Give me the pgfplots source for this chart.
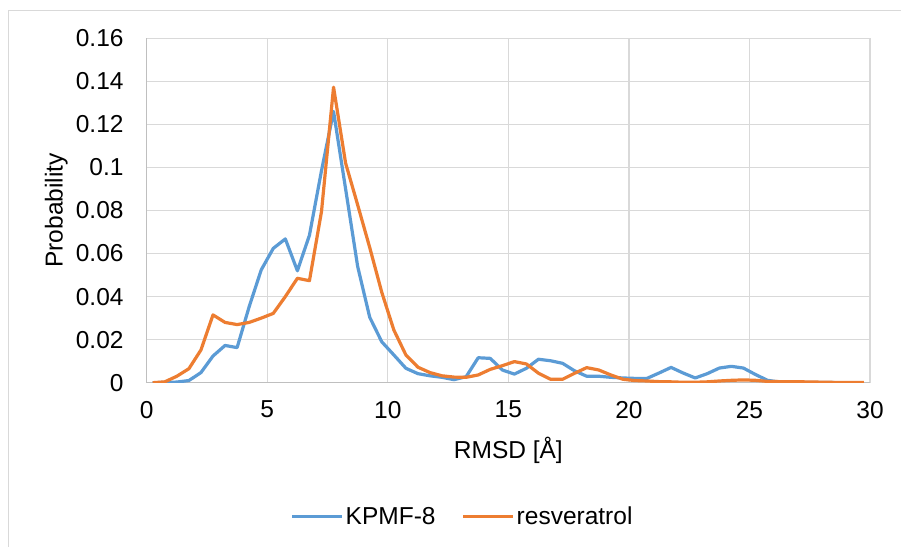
\documentclass[border=0pt]{standalone}
\usepackage{fontspec}
\setmainfont{Liberation Sans}
\usepackage{pgfplots}
\pgfplotsset{compat=1.18}
\definecolor{cblue}{RGB}{91,155,213}
\definecolor{corange}{RGB}{237,125,49}
\definecolor{cgrid}{RGB}{217,217,217}
\definecolor{caxis}{RGB}{191,191,191}
\begin{document}
\begin{tikzpicture}
\useasboundingbox (0bp,0bp) rectangle (901bp,547bp);
\fill[white] (0bp,0bp) rectangle (901bp,547bp);
\draw[cgrid, line width=1bp] (8bp,-5bp) -- (8bp,536bp) -- (910bp,536bp);
\begin{axis}[
  at={(146.7bp,164.3bp)}, anchor=south west,
  scale only axis, width=723.3bp, height=344.4bp,
  xmin=0, xmax=30, ymin=0, ymax=0.16,
  xtick={0,5,...,30}, xticklabels={0,5,10,15,20,25,30},
  ytick={0,0.02,0.04,0.06,0.08,0.1,0.12,0.14,0.16},
  yticklabels={0,0.02,0.04,0.06,0.08,0.1,0.12,0.14,0.16},
  major tick length=0pt,
  grid=major, grid style={cgrid, line width=1.2bp},
  axis lines*=left, axis line style={caxis, line width=1.5bp, -},
  font=\fontsize{24.5bp}{29bp}\selectfont,
  yticklabel style={anchor=east, inner sep=0pt, xshift=-23bp},
  xticklabel style={anchor=north, inner sep=0pt, yshift=-18bp},
  xlabel={RMSD [Å]}, ylabel={Probability},
  xlabel style={at={(axis description cs:0.5,-0.2195)}, anchor=base, inner sep=0pt},
  ylabel style={at={(axis description cs:-0.1161,0.5)}, anchor=base, inner sep=0pt},
  legend columns=2,
  legend style={at={(0.4366,-0.389)}, anchor=center, draw=none, fill=none,
    font=\fontsize{24.5bp}{29bp}\selectfont,
    nodes={inner sep=2bp},
    /tikz/every even column/.append style={column sep=24bp}},
  legend image code/.code={\draw[#1] (0bp,0bp) -- (50bp,0bp);},
  every axis plot/.append style={line width=3.2bp, line join=round},
]
\addplot[cblue] coordinates {
(0.25,0) (0.75,0.0001) (1.25,0.0003) (1.75,0.001) (2.25,0.0047) (2.75,0.0124)
(3.25,0.0173) (3.75,0.0163) (4.25,0.0353) (4.75,0.0524) (5.25,0.0624) (5.75,0.0668)
(6.25,0.052) (6.75,0.0685) (7.25,0.0985) (7.75,0.126) (8.25,0.090) (8.75,0.054)
(9.25,0.0304) (9.75,0.019) (10.25,0.0129) (10.75,0.0067) (11.25,0.0042) (11.75,0.0032)
(12.25,0.0025) (12.75,0.0014) (13.25,0.0028) (13.75,0.0116) (14.25,0.0113) (14.75,0.0059)
(15.25,0.004) (15.75,0.0067) (16.25,0.0109) (16.75,0.0102) (17.25,0.009) (17.75,0.0055)
(18.25,0.003) (18.75,0.003) (19.25,0.0025) (19.75,0.0022) (20.25,0.002) (20.75,0.002)
(21.25,0.0045) (21.75,0.0071) (22.25,0.0045) (22.75,0.0022) (23.25,0.0042) (23.75,0.0068)
(24.25,0.0076) (24.75,0.0068) (25.25,0.0038) (25.75,0.0011) (26.25,0.0003) (26.75,0.0002)
(27.25,0.0001) (27.75,0.0001) (28.25,0.0001) (28.75,0) (29.25,0) (29.75,0)
};
\addlegendentry{KPMF-8}
\addplot[corange] coordinates {
(0.25,0) (0.75,0.0004) (1.25,0.003) (1.75,0.0065) (2.25,0.0152) (2.75,0.0315)
(3.25,0.028) (3.75,0.027) (4.25,0.028) (4.75,0.030) (5.25,0.0322) (5.75,0.040)
(6.25,0.0485) (6.75,0.0474) (7.25,0.0795) (7.75,0.1373) (8.25,0.102) (8.75,0.0826)
(9.25,0.0628) (9.75,0.042) (10.25,0.0245) (10.75,0.0129) (11.25,0.0072) (11.75,0.0047)
(12.25,0.0032) (12.75,0.0026) (13.25,0.0025) (13.75,0.0036) (14.25,0.0062) (14.75,0.0079)
(15.25,0.0098) (15.75,0.0087) (16.25,0.0044) (16.75,0.0016) (17.25,0.0016) (17.75,0.0044)
(18.25,0.007) (18.75,0.0059) (19.25,0.0036) (19.75,0.0016) (20.25,0.001) (20.75,0.0008)
(21.25,0.0005) (21.75,0.0004) (22.25,0.0002) (22.75,0.0002) (23.25,0.0004) (23.75,0.0008)
(24.25,0.0011) (24.75,0.0013) (25.25,0.0011) (25.75,0.0006) (26.25,0.0005) (26.75,0.0004)
(27.25,0.0004) (27.75,0.0003) (28.25,0.0002) (28.75,0.0001) (29.25,0.0001) (29.75,0.0001)
};
\addlegendentry{resveratrol}
\end{axis}
\end{tikzpicture}
\end{document}
